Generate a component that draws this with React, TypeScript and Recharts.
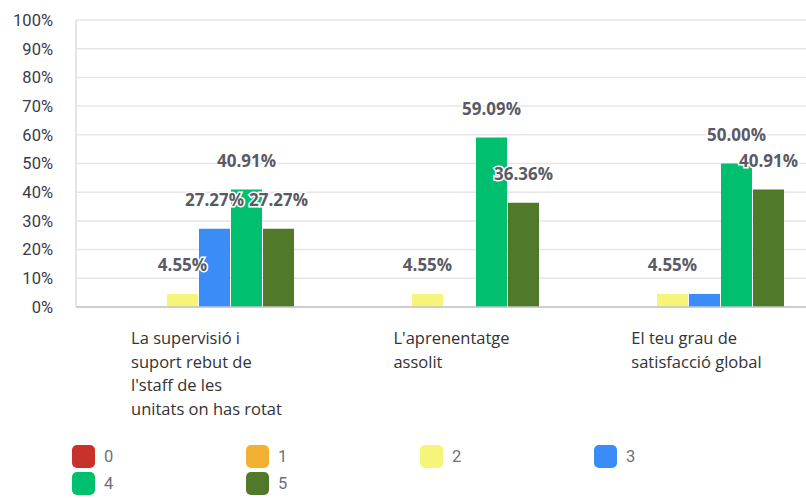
import React from "react";
import { BarChart, Bar, XAxis, YAxis, CartesianGrid, LabelList } from "recharts";

const categories = [
  "La supervisió i\nsuport rebut de\nl'staff de les\nunitats on has rotat",
  "L'aprenentatge\nassolit",
  "El teu grau de\nsatisfacció global",
];
const seriesNames = ["0", "1", "2", "3", "4", "5"];
const seriesColors = ["#C8322B", "#F2B132", "#F7F47A", "#3A8CF6", "#00BF6F", "#507A2A"];
const s0 = [0, 0, 0];
const s1 = [0, 0, 0];
const s2 = [4.55, 4.55, 4.55];
const s3 = [27.27, 0, 4.55];
const s4 = [40.91, 59.09, 50.0];
const s5 = [27.27, 36.36, 40.91];
const seriesValues = [s0, s1, s2, s3, s4, s5];
// which labels are drawn (the reference hides overlapping ones)
const labelShown = [
  [false, false, false],
  [false, false, false],
  [true, true, true],
  [true, false, false],
  [true, true, true],
  [true, true, true],
];
const yTicks = [0, 10, 20, 30, 40, 50, 60, 70, 80, 90, 100];

const data = categories.map((c, i) => {
  const row: any = { name: c };
  seriesNames.forEach((s, k) => {
    row["s" + s] = seriesValues[k][i];
  });
  return row;
});

const CatTick = (props: any) => {
  const { x, y, payload } = props;
  const lines = String(payload.value).split("\n");
  return (
    <foreignObject x={x - 114} y={y + 11} width={244} height={110}>
      <div
        style={{
          display: "flex",
          justifyContent: "center",
          fontFamily: "'Open Sans', sans-serif",
          fontSize: 16.5,
          lineHeight: "23.5px",
          color: "#333",
        }}
      >
        <div style={{ textAlign: "left", whiteSpace: "nowrap" }}>
          {lines.map((l, i) => (
            <div key={i}>{l}</div>
          ))}
        </div>
      </div>
    </foreignObject>
  );
};

const makeLabel = (k: number) => (props: any) => {
  const { x, y, width, value, index } = props;
  if (!labelShown[k][index] || !value) return null;
  return (
    <text
      x={x + width / 2}
      y={y - 29}
      textAnchor="middle"
      dominantBaseline="central"
      fontFamily="'Open Sans', sans-serif"
      fontWeight={700}
      fontSize={17}
      fill="#5a5a66"
      stroke="#ffffff"
      strokeWidth={3}
      paintOrder="stroke"
    >
      {value.toFixed(2)}%
    </text>
  );
};

export default function App() {
  return (
    <div style={{ position: "absolute", left: 0, top: 0, width: 806, height: 498, overflow: "hidden", background: "#fff" }}>
      <BarChart
        width={811}
        height={430}
        data={data}
        margin={{ top: 20, right: 0, bottom: 0, left: 0 }}
        barSize={31}
        barGap={1}
      >
        <CartesianGrid vertical={false} stroke="#e6e6e6" strokeWidth={1.5} />
        <XAxis
          dataKey="name"
          tick={<CatTick />}
          tickLine={false}
          axisLine={{ stroke: "#c4c4c4", strokeWidth: 1.5 }}
          height={123}
          interval={0}
        />
        <YAxis
          domain={[0, 100]}
          ticks={yTicks}
          tickFormatter={(v: number) => `${v}%`}
          width={76}
          tickLine={false}
          tickSize={0}
          tickMargin={23}
          axisLine={{ stroke: "#dcdcdc", strokeWidth: 1.5 }}
          tick={{ fontFamily: "Roboto, sans-serif", fontSize: 16.5, fill: "#3a3a48" }}
          interval={0}
        />
        {seriesNames.map((s, k) => (
          <Bar key={s} dataKey={"s" + s} fill={seriesColors[k]} isAnimationActive={false}>
            <LabelList dataKey={"s" + s} content={makeLabel(k)} />
          </Bar>
        ))}
      </BarChart>
      <div
        style={{
          position: "absolute",
          left: 72,
          top: 445,
          display: "grid",
          gridTemplateColumns: "174px 174px 174px 174px",
          rowGap: 4,
          fontFamily: "Roboto, sans-serif",
          fontSize: 16.5,
          color: "#6f6f7a",
        }}
      >
        {seriesNames.map((s, k) => (
          <div key={s} style={{ display: "flex", alignItems: "center", height: 23 }}>
            <div
              style={{
                width: 23,
                height: 23,
                borderRadius: 5,
                background: seriesColors[k],
                marginRight: 9,
              }}
            />
            <span>{s}</span>
          </div>
        ))}
      </div>
    </div>
  );
}
